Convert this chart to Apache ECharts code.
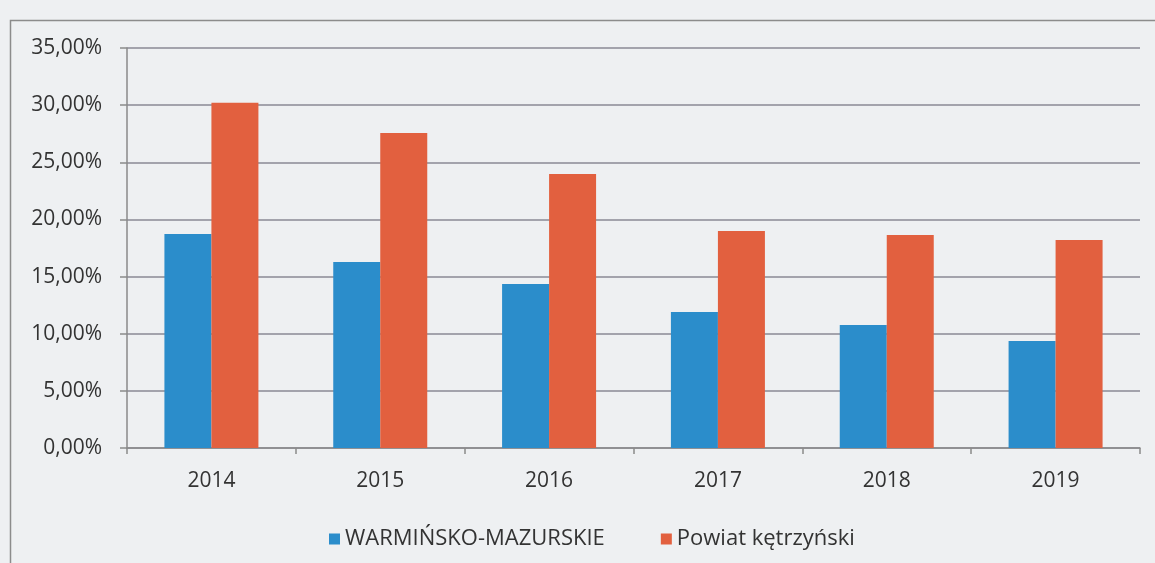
<!DOCTYPE html>
<html>
<head>
<meta charset="utf-8">
<script src="https://cdn.jsdelivr.net/npm/echarts@6/dist/echarts.min.js"></script>
<style>
  html, body { margin: 0; padding: 0; background: #eef0f2; }
  #chart { width: 1155px; height: 563px; }
</style>
</head>
<body>
<div id="chart"></div>
<script>
'use strict';

var years = ['2014', '2015', '2016', '2017', '2018', '2019'];
var warminskoMazurskie = [0.1872, 0.1627, 0.1435, 0.1190, 0.1076, 0.0936];
var powiatKetrzynski = [0.3020, 0.2756, 0.2397, 0.1899, 0.1864, 0.1820];
var seriesNames = ['WARMIŃSKO-MAZURSKIE', 'Powiat kętrzyński'];

var fontFamily = '"Open Sans", "Noto Sans", sans-serif';

var myChart = echarts.init(document.getElementById('chart'));

// formatowanie jak w Excelu: 35,00%
var formatPct = function (v) {
    return (v * 100).toFixed(2).replace('.', ',') + '%';
};

var option = {
    backgroundColor: '#eef0f2',
    animation: false,
    grid: {
        left: 127,
        right: 15,
        top: 48,
        bottom: 115
    },
    graphic: [
        {
            type: 'rect',
            shape: { x: 10.5, y: 20.5, width: 1300, height: 700 },
            style: { fill: 'none', stroke: '#8c8c8c', lineWidth: 1.5 },
            silent: true
        }
    ],
    legend: {
        left: 324,
        top: 523,
        itemWidth: 11,
        itemHeight: 11,
        itemGap: 56,
        icon: 'rect',
        textStyle: { fontFamily: fontFamily, fontSize: 22, color: '#333' },
        data: seriesNames
    },
    xAxis: {
        type: 'category',
        data: years,
        axisLine: { lineStyle: { color: '#8a8a8a', width: 1.5 } },
        axisTick: { show: true, length: 6, lineStyle: { color: '#8a8a8a', width: 1.5 } },
        axisLabel: { fontFamily: fontFamily, fontSize: 21, color: '#333', margin: 23 }
    },
    yAxis: {
        type: 'value',
        min: 0,
        max: 0.35,
        interval: 0.05,
        axisLine: { show: true, lineStyle: { color: '#8a8a8a', width: 1.5 } },
        axisTick: { show: true, length: 7, lineStyle: { color: '#8a8a8a', width: 1.5 } },
        splitLine: { lineStyle: { color: '#8a8a94', width: 1.5 } },
        axisLabel: {
            fontFamily: fontFamily,
            fontSize: 21,
            color: '#333',
            margin: 25,
            formatter: formatPct
        }
    },
    series: [
        {
            name: seriesNames[0],
            type: 'bar',
            data: warminskoMazurskie,
            barWidth: 47,
            barGap: '0%',
            itemStyle: { color: '#2b8dcb' }
        },
        {
            name: seriesNames[1],
            type: 'bar',
            data: powiatKetrzynski,
            barWidth: 47,
            barGap: '0%',
            itemStyle: { color: '#e2603f' }
        }
    ]
};

myChart.setOption(option);
</script>
</body>
</html>
